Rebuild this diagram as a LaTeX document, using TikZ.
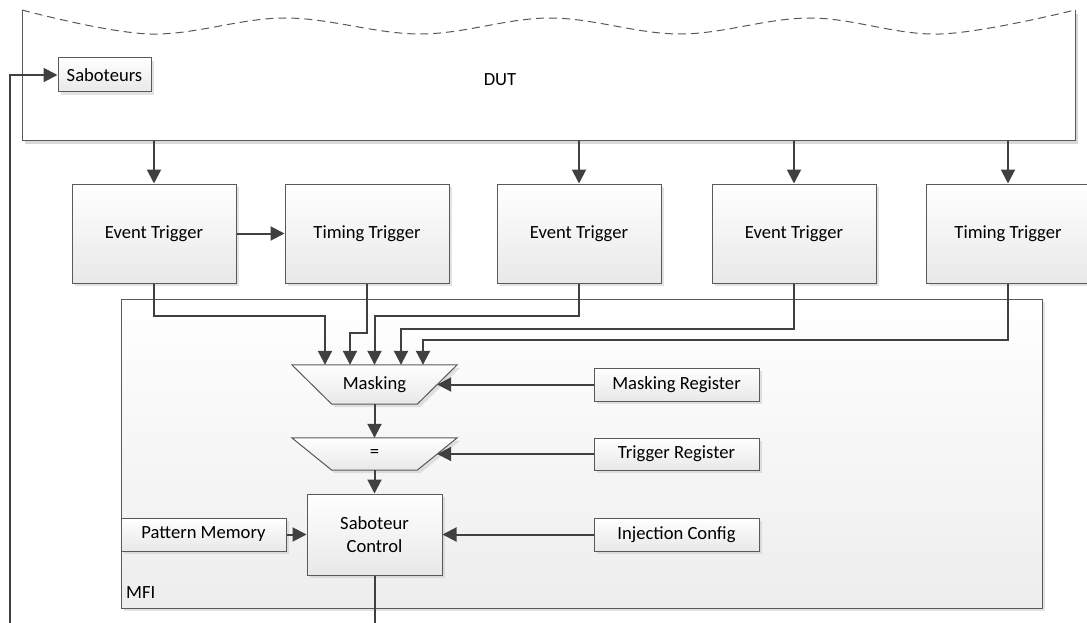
\documentclass[tikz,border=0pt]{standalone}
\usepackage{fontspec}
\setmainfont{Carlito}
\usetikzlibrary{arrows.meta,shadows,calc}
\begin{document}
\begin{tikzpicture}[x=1pt,y=-1pt,
  font=\fontsize{18.6}{23.3}\selectfont,
  shad/.style={drop shadow={shadow xshift=3pt,shadow yshift=-3pt,fill=black!22}},
  box/.style={draw=black!65,line width=1pt,top color=white,bottom color=black!9,shad,inner sep=0pt,align=center},
  trapbox/.style={minimum width=165pt,inner sep=0pt},
  arr/.style={draw=black!75,line width=2pt,-{Triangle[length=14pt,width=14pt]}},
  wire/.style={draw=black!75,line width=2pt},
  trap/.style={draw=black!65,line width=1pt,top color=white,bottom color=black!9,shad}
]
\useasboundingbox (0,0) rectangle (1087,623);
\clip (0,0) rectangle (1087,623);
% DUT shape
\coordinate (dutTL) at (22,10);
\coordinate (dutBR) at (1075,141);
\fill[black!15] (25,14) -- (25,144) -- (1078,144) -- (1078,14) -- cycle;
\fill[white] (22,10) -- (22,141) -- (1075,141) -- (1075,10) -- cycle;
\draw[black!65,line width=1pt] (dutTL) -- (dutTL |- dutBR) -- (dutBR) -- (dutBR |- dutTL);
\draw[black!65,line width=1pt,dash pattern=on 8pt off 5pt] plot[smooth,tension=0.6] coordinates {(22,10) (150,34) (285,18) (420,34) (550,18) (680,34) (810,18) (940,34) (1075,10)};
\node (dut) at (500,80) {DUT};
\node[box,minimum width=93pt,minimum height=34pt] (sab) at (104.5,75) {Saboteurs};
% trigger row
\node[box,minimum width=164pt,minimum height=99pt] (et1) at (154,233.5) {Event Trigger};
\node[box,minimum width=164pt,minimum height=99pt] (tt2) at (367,233.5) {Timing Trigger};
\node[box,minimum width=164pt,minimum height=99pt] (et3) at (579,233.5) {Event Trigger};
\node[box,minimum width=164pt,minimum height=99pt] (et4) at (794,233.5) {Event Trigger};
\node[box,minimum width=164pt,minimum height=99pt] (tt5) at (1008,233.5) {Timing Trigger};
% MFI
\node[draw=black!65,line width=1pt,top color=white,bottom color=black!7,shad,minimum width=921pt,minimum height=309pt,inner sep=0pt] (mfi) at (581.5,453.5) {};
\node[anchor=south west,inner sep=0pt] (mfilabel) at (126,599) {MFI};
% trapezoids
\node[trapbox,minimum height=39pt] (mask) at (374.5,384.5) {};
\path[trap] (mask.north west) -- (mask.north east) -- ($(mask.south east)+(-40,0)$) -- ($(mask.south west)+(40,0)$) -- cycle;
\node (maskT) at (mask) {Masking};
\node[trapbox,minimum height=32pt] (eq) at (374.5,454) {};
\path[trap] (eq.north west) -- (eq.north east) -- ($(eq.south east)+(-40,0)$) -- ($(eq.south west)+(40,0)$) -- cycle;
\node (eqT) at (eq) {=};
\node[box,minimum width=135pt,minimum height=81pt] (sc) at (374.5,534.5) {Saboteur\\Control};
\node[box,minimum width=165pt,minimum height=33pt] (pm) at (203.5,534.5) {Pattern Memory};
\node[box,minimum width=165pt,minimum height=33pt] (mr) at (676.5,384.5) {Masking Register};
\node[box,minimum width=165pt,minimum height=32pt] (tr) at (676.5,454) {Trigger Register};
\node[box,minimum width=165pt,minimum height=33pt] (ic) at (676.5,534.5) {Injection Config};
% connectors
\draw[arr] (et1.north |- dutBR) -- (et1.north);
\draw[arr] (et3.north |- dutBR) -- (et3.north);
\draw[arr] (et4.north |- dutBR) -- (et4.north);
\draw[arr] (tt5.north |- dutBR) -- (tt5.north);
\draw[arr] (et1.east) -- (tt2.west);
\draw[arr] (et1.south) -- ++(0,32) -| ($(mask.north)+(-49.5,0)$);
\draw[arr] (tt2.south) -- ++(0,49) -| ($(mask.north)+(-24.5,0)$);
\draw[arr] (et3.south) -- ++(0,32) -| (mask.north);
\draw[arr] (et4.south) -- ++(0,45) -| ($(mask.north)+(26.5,0)$);
\draw[arr] (tt5.south) -- ++(0,56) -| ($(mask.north)+(48.5,0)$);
\draw[arr] (mr.west) -- ($(mask.east)+(-20,0)$);
\draw[arr] (tr.west) -- ($(eq.east)+(-20,0)$);
\draw[arr] (mask.south) -- (eq.north);
\draw[arr] (eq.south) -- (sc.north);
\draw[arr] (pm.east) -- (sc.west);
\draw[arr] (ic.west) -- (sc.east);
\coordinate (scout) at (374.5,630);
\draw[wire] (sc.south) -- (scout);
\coordinate (fb) at (10,630);
\draw[arr] (fb) |- (sab.west);
\end{tikzpicture}
\end{document}
